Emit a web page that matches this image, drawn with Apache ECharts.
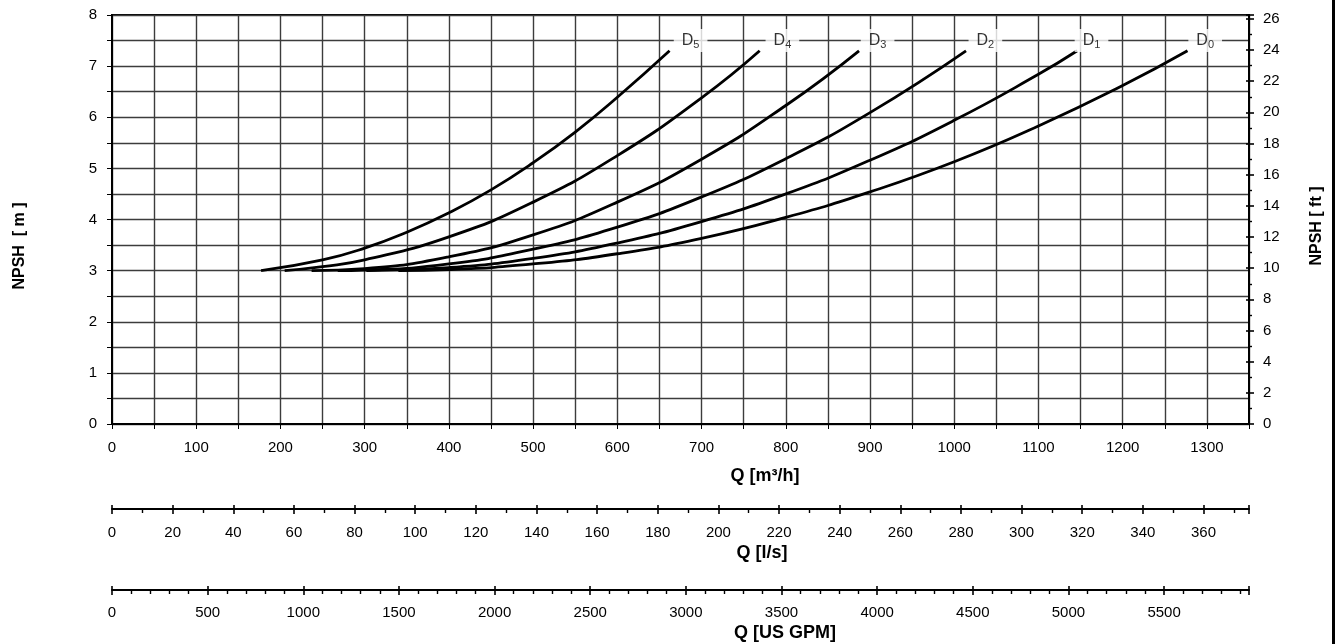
<!DOCTYPE html>
<html><head><meta charset="utf-8">
<script src="https://cdn.jsdelivr.net/npm/echarts@6/dist/echarts.min.js"></script>
<style>html,body{margin:0;padding:0;background:#fff}#c{width:1343px;height:644px}</style>
</head><body><div id="c"></div>
<script>
// NPSH [m] vs Q [m3/h] for impeller diameters D0..D5
const curveNames = ['D0', 'D1', 'D2', 'D3', 'D4', 'D5'];
const d0 = [[340,3.0],[400,3.02],[500,3.13],[600,3.33],[700,3.63],[800,4.04],[900,4.54],[1000,5.13],[1100,5.83],[1200,6.62],[1277,7.30]];
const d1 = [[302,3.0],[400,3.06],[500,3.24],[600,3.54],[700,3.96],[800,4.50],[900,5.16],[1000,5.94],[1100,6.84],[1146,7.30]];
const d2 = [[268,3.0],[300,3.01],[400,3.13],[500,3.42],[600,3.85],[700,4.44],[800,5.19],[900,6.09],[1014,7.30]];
const d3 = [[237,3.0],[300,3.04],[400,3.27],[500,3.70],[600,4.34],[700,5.18],[800,6.23],[887,7.30]];
const d4 = [[205,3.0],[250,3.08],[300,3.21],[400,3.66],[500,4.34],[600,5.25],[700,6.38],[769,7.30]];
const d5 = [[177,3.0],[250,3.21],[300,3.44],[350,3.75],[400,4.13],[450,4.58],[500,5.11],[550,5.71],[600,6.39],[662,7.30]];
const curves = [d0, d1, d2, d3, d4, d5];
// label anchor Q positions (on the 7.5 m grid line)
const labelQ = [1298, 1163, 1037, 909, 796, 687];
const labelSub = ['0', '1', '2', '3', '4', '5'];
const labelNPSH = 7.5;
// axis extents
const qMax = 1350;            // m3/h
const lsMax = 375;            // l/s  (1350/3.6)
const gpmMax = 5943.9;        // US GPM (1350*4.40287)
const mMax = 8;               // m
const ftMax = 26.2467;        // ft (8*3.28084)

const FONT = '"Liberation Sans", Arial, sans-serif';
const black = '#000';

const chart = echarts.init(document.getElementById('c'), null, {renderer: 'canvas'});

function secAxis(offset, max, interval, minorSplit, inside, margin) {
  return {
    type: 'value', position: 'bottom', offset: offset, min: 0, max: max, interval: interval,
    axisLine: {show: !inside, onZero: false, lineStyle: {color: black, width: 2}},
    axisTick: {show: true, inside: !!inside, length: inside ? 4 : 5, lineStyle: {color: black, width: 1.6}},
    minorTick: {show: !inside, splitNumber: minorSplit, length: 4, lineStyle: {color: black, width: 1.4}},
    axisLabel: {show: !inside, showMaxLabel: false, formatter: v => String(v), color: black, fontSize: 15, fontFamily: FONT, margin: margin},
    splitLine: {show: false}
  };
}

const series = curves.map((d, i) => ({
  name: curveNames[i], type: 'line', data: d, smooth: true, showSymbol: false,
  xAxisIndex: 0, yAxisIndex: 0,
  lineStyle: {color: black, width: 2.8}, itemStyle: {color: black}, z: 5, silent: true
}));
series.push({
  type: 'scatter', xAxisIndex: 0, yAxisIndex: 0, z: 10, silent: true,
  symbolSize: 1, itemStyle: {color: 'rgba(0,0,0,0)'},
  data: labelQ.map((q, i) => ({value: [q, labelNPSH], sub: labelSub[i]})),
  label: {
    show: true, position: 'inside',
    formatter: p => '{d|D}{s|' + p.data.sub + '}',
    backgroundColor: '#fff', padding: [2, 8, 2, 8],
    rich: {
      d: {fontSize: 16, fontFamily: FONT, color: black},
      s: {fontSize: 11, fontFamily: FONT, color: black, padding: [8, 0, 0, 0]}
    }
  }
});

chart.setOption({
  animation: false,
  backgroundColor: '#fff',
  grid: {left: 112, right: 94, top: 15, bottom: 220, show: true, borderColor: black, borderWidth: 2},
  xAxis: [
    {
      type: 'value', position: 'bottom', min: 0, max: qMax, interval: 50,
      axisLine: {onZero: false, lineStyle: {color: black, width: 2}},
      axisTick: {show: true, length: 5, lineStyle: {color: black, width: 1}},
      axisLabel: {formatter: v => (v % 100 === 0 ? String(v) : ''), color: black, fontSize: 15, fontFamily: FONT, margin: 16},
      splitLine: {show: true, lineStyle: {color: '#3c3c3c', width: 1.4}}
    },
    secAxis(85, lsMax, 20, 2, false, 16),
    secAxis(85, lsMax, 20, 2, true, 16),
    secAxis(166, gpmMax, 500, 5, false, 15),
    secAxis(166, gpmMax, 500, 5, true, 15)
  ],
  yAxis: [
    {
      type: 'value', position: 'left', min: 0, max: mMax, interval: 0.5,
      axisLine: {show: true, onZero: false, lineStyle: {color: black, width: 2}},
      axisTick: {show: true, length: 5, lineStyle: {color: black, width: 1}},
      axisLabel: {formatter: v => (Number.isInteger(v) ? String(v) : ''), color: black, fontSize: 15, fontFamily: FONT, margin: 15},
      splitLine: {show: true, lineStyle: {color: '#3c3c3c', width: 1.4}}
    },
    {
      type: 'value', position: 'right', min: 0, max: ftMax, interval: 2,
      axisLine: {show: true, onZero: false, lineStyle: {color: black, width: 2}},
      axisTick: {show: true, length: 5, lineStyle: {color: black, width: 1.6}},
      minorTick: {show: true, splitNumber: 2, length: 3, lineStyle: {color: black, width: 1.4}},
      axisLabel: {showMaxLabel: false, hideOverlap: false, formatter: v => String(v), color: black, fontSize: 15, fontFamily: FONT, margin: 14},
      splitLine: {show: false}
    },
    {
      type: 'value', position: 'right', min: 0, max: ftMax, interval: 2,
      axisLine: {show: false, onZero: false},
      axisTick: {show: true, inside: true, length: 3, lineStyle: {color: black, width: 1.6}},
      axisLabel: {show: false}, splitLine: {show: false}
    }
  ],
  graphic: [
    {type: 'text', x: 765, y: 476, style: {text: 'Q [m³/h]', font: 'bold 18px ' + FONT, fill: black, align: 'center', verticalAlign: 'middle'}},
    {type: 'text', x: 762, y: 553, style: {text: 'Q [l/s]', font: 'bold 18px ' + FONT, fill: black, align: 'center', verticalAlign: 'middle'}},
    {type: 'text', x: 785, y: 633, style: {text: 'Q [US GPM]', font: 'bold 18px ' + FONT, fill: black, align: 'center', verticalAlign: 'middle'}},
    {type: 'text', x: 20, y: 246, rotation: Math.PI / 2, style: {text: 'NPSH  [ m ]', font: 'bold 16px ' + FONT, fill: black, align: 'center', verticalAlign: 'middle'}},
    {type: 'text', x: 1317, y: 226, rotation: Math.PI / 2, style: {text: 'NPSH [ ft ]', font: 'bold 16px ' + FONT, fill: black, align: 'center', verticalAlign: 'middle'}},
    {type: 'rect', shape: {x: 1332, y: 0, width: 3, height: 644}, style: {fill: black}}
  ],
  series: series
});
</script></body></html>
